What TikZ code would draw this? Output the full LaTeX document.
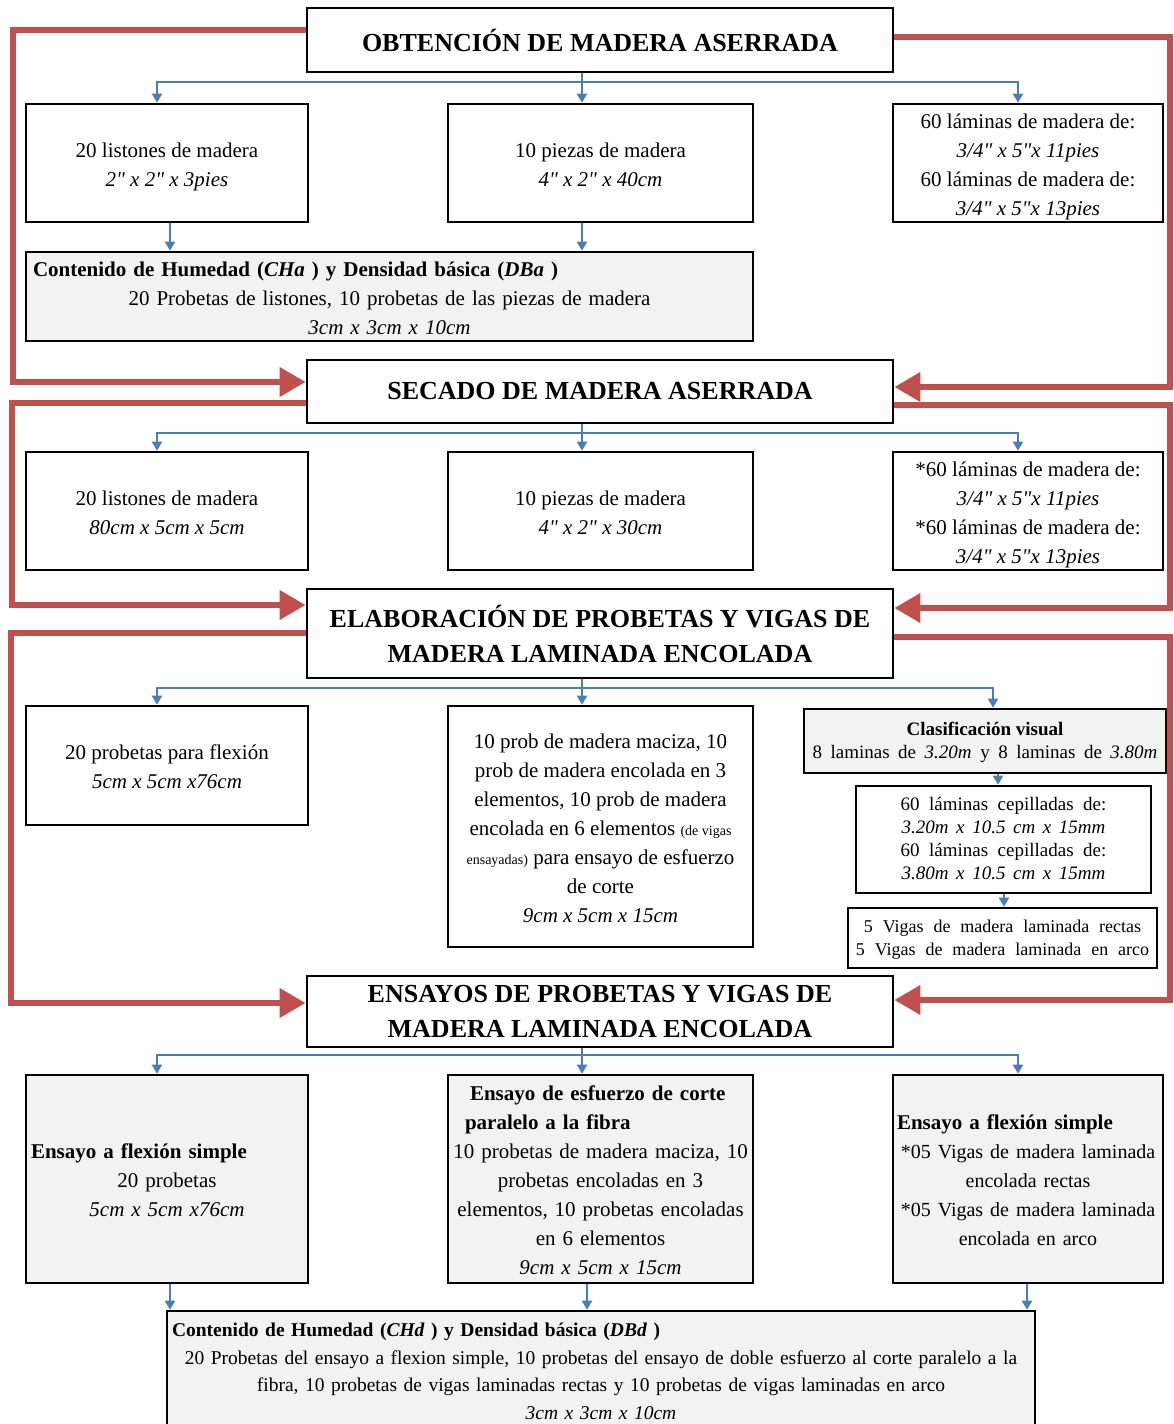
\documentclass[tikz,border=0pt]{standalone}
\usepackage{fontspec}
\setmainfont{Liberation Serif}[Ligatures=TeXOff]
\usetikzlibrary{arrows.meta,calc}
\definecolor{redA}{HTML}{C0504D}
\definecolor{blueA}{HTML}{4A7EBB}
\definecolor{grayF}{HTML}{F2F2F2}
\newcommand\fst{\rule[-6pt]{0pt}{29pt}}
\newcommand\sst{\rule[-6pt]{0pt}{23pt}}
\newcommand\bst{\rule[-6pt]{0pt}{26pt}}
\newcommand\nar{\fontsize{20}{29}\selectfont}
\begin{document}
\begin{tikzpicture}[x=1pt,y=-1pt,
  box/.style={draw=black, line width=2.6pt, fill=white, inner sep=0pt, align=center,
    font=\fontsize{21}{29}\selectfont},
  gbox/.style={box, fill=grayF},
  titlebox/.style={box, font=\bfseries\fontsize{26}{35}\selectfont},
  smallbox/.style={box, font=\fontsize{19}{23}\selectfont},
  bl/.style={draw=blueA, line width=2pt, -{Triangle[length=9pt,width=10pt]}},
  redl/.style={draw=redA, line width=6.5pt, line join=miter, -{Triangle[length=26pt,width=28pt]}}
]
\useasboundingbox[fill=white] (0,0) rectangle (1173,1424);
\clip (0,0) rectangle (1173,1424);

% ---------- level 1
\node[titlebox, minimum width=586pt, minimum height=64pt] (b1) at (600,40) {OBTENCIÓN DE MADERA ASERRADA};
\node[box, minimum width=282pt, minimum height=118pt] (l1) at (167,163) {\fst 20 listones de madera\\\fst\textit{2" x 2" x 3pies}};
\node[box, minimum width=305pt, minimum height=118pt] (m1) at (600.5,163) {\fst 10 piezas de madera\\\fst\textit{4" x 2" x 40cm}};
\node[box, minimum width=270pt, minimum height=118pt] (r1) at (1028,163) {\fst 60 láminas de madera de:\\\textit{3/4" x 5"x 11pies}\\60 láminas de madera de:\\\fst\textit{3/4" x 5"x 13pies}};
\node[gbox, minimum width=727pt, minimum height=89pt, text width=713pt] (g1) at (389.5,296.5)
 {\makebox[\linewidth][l]{\fst\textbf{Contenido de Humedad (\textit{CHa} ) y Densidad básica (\textit{DBa} )}}\\
  20 Probetas de listones, 10 probetas de las piezas de madera\\
  \fst\textit{3cm x 3cm x 10cm}};

% ---------- level 2
\node[titlebox, minimum width=586pt, minimum height=63pt] (b2) at (600,391.5) {SECADO DE MADERA ASERRADA};
\node[box, minimum width=282pt, minimum height=118pt] (l2) at (167,511) {\fst 20 listones de madera\\\fst\textit{80cm x 5cm x 5cm}};
\node[box, minimum width=305pt, minimum height=118pt] (m2) at (600.5,511) {\fst 10 piezas de madera\\\fst\textit{4" x 2" x 30cm}};
\node[box, minimum width=270pt, minimum height=118pt] (r2) at (1028,511) {\fst *60 láminas de madera de:\\\textit{3/4" x 5"x 11pies}\\{*}60 láminas de madera de:\\\fst\textit{3/4" x 5"x 13pies}};

% ---------- level 3
\node[titlebox, minimum width=586pt, minimum height=89pt] (b3) at (600,633.5) {ELABORACIÓN DE PROBETAS Y VIGAS DE\\MADERA LAMINADA ENCOLADA};
\node[box, minimum width=282pt, minimum height=119pt] (l3) at (167,765.5) {\fst 20 probetas para flexión\\\fst\textit{5cm x 5cm x76cm}};
\node[box, minimum width=305pt, minimum height=241pt] (m3) at (600.5,826.5)
 {\fst 10 prob de madera maciza, 10\\prob de madera encolada en 3\\elementos, 10 prob de madera\\encolada en 6 elementos {\fontsize{14}{29}\selectfont(de vigas}\\{\fontsize{14}{29}\selectfont ensayadas)} para ensayo de esfuerzo\\de corte\\\fst\textit{9cm x 5cm x 15cm}};
\node[smallbox, fill=grayF, minimum width=362pt, minimum height=64pt] (c3) at (985,741)
 {\sst\textbf{Clasificación visual}\\{\sst\spaceskip=0.45em plus 0.1em 8 laminas de \textit{3.20m} y 8 laminas de \textit{3.80m}}};
\node[smallbox, minimum width=295pt, minimum height=107pt] (p3) at (1003.5,839.5)
 {{\sst\spaceskip=0.5em plus 0.1em 60 láminas cepilladas de:}\\{\spaceskip=0.4em\textit{3.20m x 10.5 cm x 15mm}}\\{\spaceskip=0.5em plus 0.1em 60 láminas cepilladas de:}\\{\sst\spaceskip=0.4em\textit{3.80m x 10.5 cm x 15mm}}};
\node[smallbox, font=\fontsize{18}{23}\selectfont, minimum width=309pt, minimum height=60pt] (v3) at (1002.5,938)
 {{\sst\spaceskip=0.55em plus 0.1em 5 Vigas de madera laminada rectas}\\{\sst\spaceskip=0.55em plus 0.1em 5 Vigas de madera laminada en arco}};

% ---------- level 4
\node[titlebox, minimum width=586pt, minimum height=71pt] (b4) at (600,1011.5) {ENSAYOS DE PROBETAS Y VIGAS DE\\MADERA LAMINADA ENCOLADA};
\node[gbox, minimum width=282pt, minimum height=208pt, text width=272pt] (l4) at (167,1179)
 {\makebox[\linewidth][l]{\fst\textbf{Ensayo a flexión simple}}\\20 probetas\\\fst\textit{5cm x 5cm x76cm}};
\node[gbox, minimum width=305pt, minimum height=208pt, text width=295pt] (m4) at (600.5,1179)
 {\makebox[\linewidth][l]{\fst\hspace*{17pt}\textbf{Ensayo de esfuerzo de corte}}\\
  \makebox[\linewidth][l]{\hspace*{12pt}\textbf{paralelo a la fibra}}\\
  10 probetas de madera maciza, 10\\probetas encoladas en 3\\elementos, 10 probetas encoladas\\en 6 elementos\\\fst\textit{9cm x 5cm x 15cm}};
\node[gbox, minimum width=270pt, minimum height=208pt, text width=270pt] (r4) at (1028,1179)
 {\makebox[\linewidth][l]{\fst\hspace*{4pt}\textbf{Ensayo a flexión simple}}\\{\nar{*}05 Vigas de madera laminada}\\{\nar encolada rectas}\\{\nar{*}05 Vigas de madera laminada}\\{\nar\fst encolada en arco}};
\node[gbox, font=\fontsize{19.5}{27.5}\selectfont, minimum width=868pt, minimum height=120pt, text width=858pt] (g5) at (601,1371)
 {\makebox[\linewidth][l]{\bst\textbf{Contenido de Humedad (\textit{CHd} ) y Densidad básica (\textit{DBd} )}}\\
  20 Probetas del ensayo a flexion simple, 10 probetas del ensayo de doble esfuerzo al corte paralelo a la\\
  fibra, 10 probetas de vigas laminadas rectas y 10 probetas de vigas laminadas en arco\\
  \bst\textit{3cm x 3cm x 10cm}};

% ---------- blue connectors
\coordinate (f1) at (582,82);
\draw[bl] (b1.south -| f1) -- (m1.north -| f1);
\draw[bl] (f1) -| ([xshift=-10pt]l1.north);
\draw[bl] (f1) -| ([xshift=-10pt]r1.north);
\draw[bl] ([xshift=3pt]l1.south) -- ([xshift=3pt]l1.south |- g1.north);
\draw[bl] (m1.south -| f1) -- (g1.north -| f1);

\coordinate (f2) at (582,433);
\draw[bl] (b2.south -| f2) -- (m2.north -| f2);
\draw[bl] (f2) -| ([xshift=-10pt]l2.north);
\draw[bl] (f2) -| ([xshift=-10pt]r2.north);

\coordinate (f3) at (582,688);
\draw[bl] (b3.south -| f3) -- (m3.north -| f3);
\draw[bl] (f3) -| ([xshift=-10pt]l3.north);
\draw[bl] (f3) -| ([xshift=8pt]c3.north);
\coordinate (x998) at (998,0);
\coordinate (x1004) at (1004,0);
\draw[bl] (c3.south -| x998) -- (p3.north -| x998);
\draw[bl] (p3.south -| x1004) -- (v3.north -| x1004);

\coordinate (f4) at (582,1055);
\draw[bl] (b4.south -| f4) -- (m4.north -| f4);
\draw[bl] (f4) -| ([xshift=-10pt]l4.north);
\draw[bl] (f4) -| ([xshift=-10pt]r4.north);
\coordinate (x170) at (170,0);
\coordinate (x587) at (587,0);
\coordinate (x1027) at (1027,0);
\draw[bl] (l4.south -| x170) -- (g5.north -| x170);
\draw[bl] (m4.south -| x587) -- (g5.north -| x587);
\draw[bl] (r4.south -| x1027) -- (g5.north -| x1027);

% ---------- red loops
\coordinate (ra1) at (13,30);   \coordinate (ra2) at (13,382);
\coordinate (rb1) at (1170,37); \coordinate (rb2) at (1170,387);
\coordinate (rc1) at (12,403);  \coordinate (rc2) at (12,605);
\coordinate (rd1) at (1170,405);\coordinate (rd2) at (1170,608);
\coordinate (re1) at (11,633);  \coordinate (re2) at (11,1003);
\coordinate (rf1) at (1170,637);\coordinate (rf2) at (1170,1000);
\draw[redl] (ra1 -| b1.west) -- (ra1) -- (ra2) -- (ra2 -| b2.west);
\draw[redl] (rb1 -| b1.east) -- (rb1) -- (rb2) -- (rb2 -| b2.east);
\draw[redl] (rc1 -| b2.west) -- (rc1) -- (rc2) -- (rc2 -| b3.west);
\draw[redl] (rd1 -| b2.east) -- (rd1) -- (rd2) -- (rd2 -| b3.east);
\draw[redl] (re1 -| b3.west) -- (re1) -- (re2) -- (re2 -| b4.west);
\draw[redl] (rf1 -| b3.east) -- (rf1) -- (rf2) -- (rf2 -| b4.east);
\end{tikzpicture}
\end{document}
